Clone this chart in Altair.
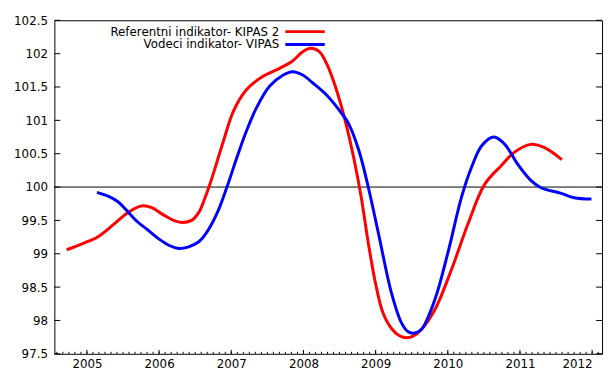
import altair as alt
import pandas as pd

# ---- data ----
series_names = ["Referentni indikator- KIPAS 2", "Vodeci indikator- VIPAS"]
series_colors = ["#ff0000", "#0000ff"]

red_x = [2004.72, 2004.96, 2005.16, 2005.37, 2005.57, 2005.77, 2005.90, 2006.05, 2006.20,
         2006.32, 2006.45, 2006.55, 2006.63, 2006.70, 2006.78, 2006.90, 2007.03, 2007.21,
         2007.44, 2007.67, 2007.85, 2007.99, 2008.10, 2008.22, 2008.33, 2008.45, 2008.58,
         2008.70, 2008.80, 2008.90, 2009.00, 2009.10, 2009.22, 2009.33, 2009.43, 2009.53,
         2009.63, 2009.82, 2010.05, 2010.28, 2010.51, 2010.74, 2010.92, 2011.15, 2011.34,
         2011.58]
red_y = [99.06, 99.16, 99.26, 99.44, 99.62, 99.72, 99.69, 99.59, 99.50,
         99.47, 99.50, 99.62, 99.82, 100.03, 100.30, 100.72, 101.14, 101.46,
         101.66, 101.78, 101.89, 102.03, 102.08, 102.03, 101.83, 101.48, 100.99,
         100.42, 99.85, 99.15, 98.55, 98.12, 97.88, 97.77, 97.74, 97.77,
         97.86, 98.16, 98.76, 99.45, 100.04, 100.32, 100.52, 100.64, 100.59,
         100.41]

blue_x = [2005.14, 2005.30, 2005.43, 2005.55, 2005.70, 2005.84, 2006.00, 2006.15, 2006.27,
          2006.40, 2006.55, 2006.66, 2006.80, 2006.94, 2007.08, 2007.21, 2007.35, 2007.53,
          2007.72, 2007.85, 2007.99, 2008.13, 2008.31, 2008.49, 2008.63, 2008.77, 2008.90,
          2009.04, 2009.22, 2009.36, 2009.45, 2009.53, 2009.63, 2009.82, 2010.00, 2010.19,
          2010.33, 2010.47, 2010.64, 2010.79, 2010.97, 2011.15, 2011.29, 2011.56, 2011.75,
          2011.99]
blue_y = [99.92, 99.86, 99.78, 99.65, 99.48, 99.36, 99.22, 99.12, 99.08,
          99.10, 99.18, 99.32, 99.60, 100.00, 100.45, 100.84, 101.19, 101.51,
          101.68, 101.73, 101.68, 101.56, 101.39, 101.16, 100.94, 100.54, 99.99,
          99.30, 98.41, 97.96, 97.83, 97.81, 97.86, 98.31, 99.01, 99.85,
          100.30, 100.62, 100.75, 100.64, 100.34, 100.10, 99.99, 99.91, 99.84,
          99.82]

y_tick_values = [97.5, 98, 98.5, 99, 99.5, 100, 100.5, 101, 101.5, 102, 102.5]
year_ticks = [2005, 2006, 2007, 2008, 2009, 2010, 2011, 2012]
x_domain = [2004.549, 2012.137]
minor_ticks = [round(y + m / 12, 4) for y in range(2004, 2013) for m in range(12)
               if x_domain[0] <= y + m / 12 <= x_domain[1]]

# ---- layout ----
W, H = 555, 338
FONT = "DejaVu Sans"
FS = 12

df = pd.concat([
    pd.DataFrame({"x": red_x, "y": red_y, "s": series_names[0], "o": 0}),
    pd.DataFrame({"x": blue_x, "y": blue_y, "s": series_names[1], "o": 1}),
])

xs = alt.Scale(domain=x_domain, nice=False, zero=False)
ys = alt.Scale(domain=[97.5, 102.5], nice=False, zero=False)
x_axis = alt.Axis(values=year_ticks, format="d", tickSize=0, domain=False, grid=False,
                  labelPadding=5, labelFont=FONT, labelFontSize=FS, labelColor="black",
                  labelFlush=12)
y_axis = alt.Axis(values=y_tick_values, labelExpr="'' + datum.value", tickSize=0, domain=False,
                  grid=False, labelPadding=7, labelFont=FONT, labelFontSize=FS, labelColor="black")

X = alt.X("x:Q", scale=xs, axis=x_axis, title=None)
Y = alt.Y("y:Q", scale=ys, axis=y_axis, title=None)

lines = alt.Chart(df).mark_line(interpolate="catmull-rom", strokeWidth=3).encode(
    x=X, y=Y,
    color=alt.Color("s:N", scale=alt.Scale(domain=series_names, range=series_colors), legend=None),
    detail="s:N",
)
red_line = lines.transform_filter(alt.datum.o == 0)
blue_line = lines.transform_filter(alt.datum.o == 1)

hundred = alt.Chart(pd.DataFrame({"y": [100]})).mark_rule(color="black", strokeWidth=1).encode(y=Y)

ydf = pd.DataFrame({"y": y_tick_values})
ytick_l = alt.Chart(ydf).mark_rule(color="black").encode(y=Y, x=alt.value(0), x2=alt.value(6))
ytick_r = alt.Chart(ydf).mark_rule(color="black").encode(y=Y, x=alt.value(W - 6), x2=alt.value(W))
xtick_minor = alt.Chart(pd.DataFrame({"x": minor_ticks})).mark_rule(color="black").encode(
    x=X, y=alt.value(H), y2=alt.value(H - 2))
xtick_major = alt.Chart(pd.DataFrame({"x": year_ticks})).mark_rule(color="black").encode(
    x=X, y=alt.value(H), y2=alt.value(H - 4))

leg_rows = [(series_names[0], series_colors[0], 11.5), (series_names[1], series_colors[1], 24.5)]
legend_layers = []
for name, col, ly in leg_rows:
    legend_layers.append(
        alt.Chart(pd.DataFrame({"t": [name]})).mark_text(
            align="right", baseline="middle", font=FONT, fontSize=FS, color="black"
        ).encode(x=alt.value(228), y=alt.value(ly), text="t:N")
    )
    legend_layers.append(
        alt.Chart(pd.DataFrame({"t": [name]})).mark_rule(color=col, strokeWidth=3).encode(
            x=alt.value(234), x2=alt.value(274), y=alt.value(ly))
    )

chart = alt.layer(
    hundred, red_line, blue_line, ytick_l, ytick_r, xtick_minor, xtick_major, *legend_layers
).properties(
    width=W, height=H,
    autosize=alt.AutoSizeParams(type="none"),
    padding={"left": 47, "top": 10, "right": 3, "bottom": 18},
    background="white",
).configure_view(stroke="black", strokeWidth=1)

chart.save("out.html", embed_options={"renderer": "svg", "actions": False})
